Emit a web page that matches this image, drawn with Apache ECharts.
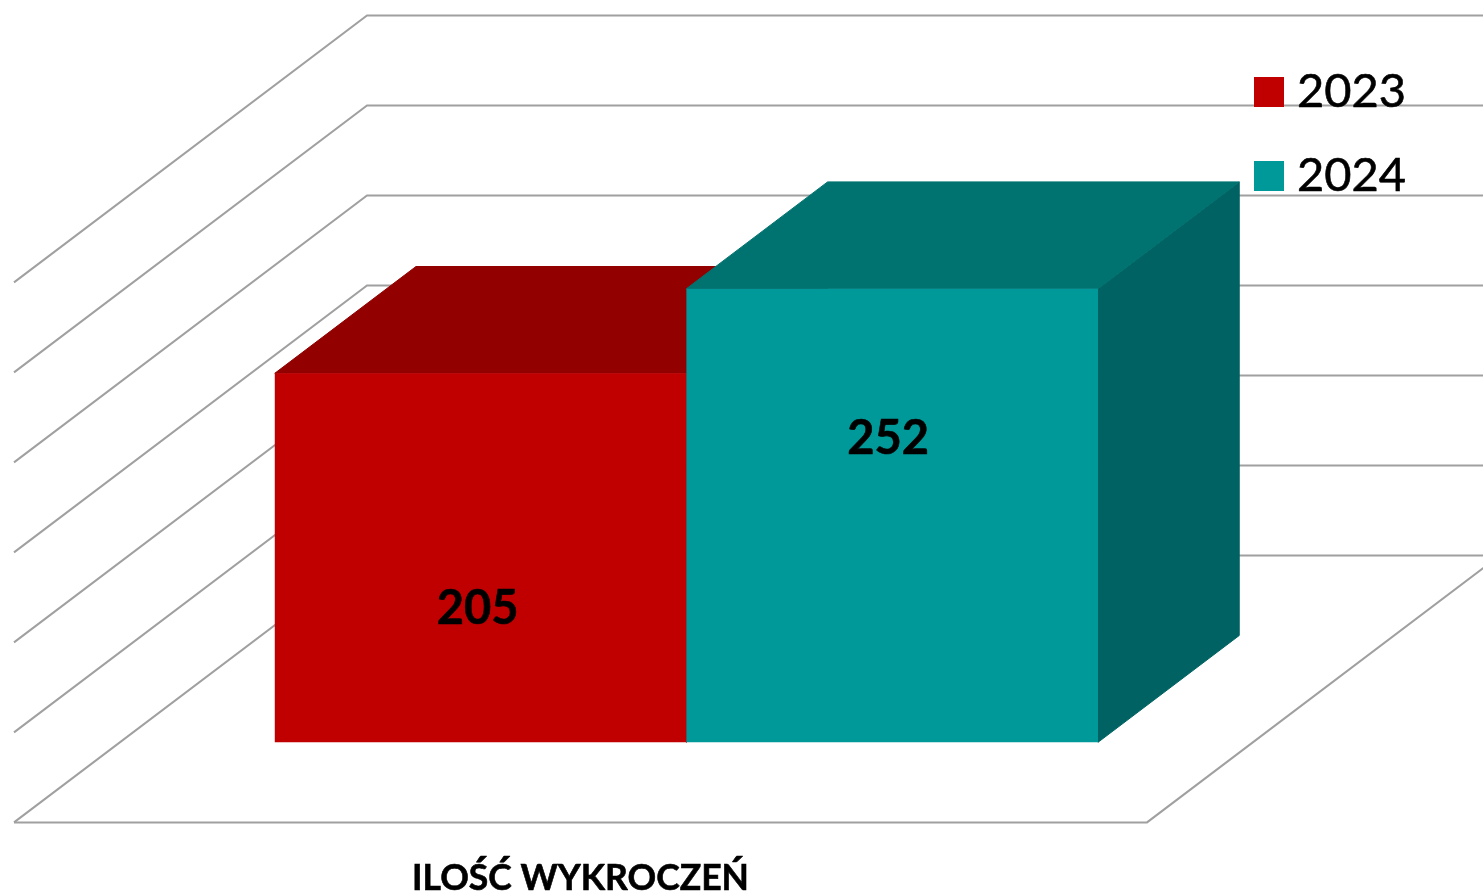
<!DOCTYPE html>
<html lang="pl">

<head>
    <meta charset="UTF-8">
    <title>Ilość wykroczeń</title>
    <script src="https://cdn.jsdelivr.net/npm/echarts@6/dist/echarts.min.js"></script>
    <style>
        html, body {
            margin: 0;
            padding: 0;
            background: #fff;
        }

        #main {
            width: 1483px;
            height: 893px;
            overflow: hidden;
        }
    </style>
</head>
<body>
<div id="main"></div>

<script type="text/javascript">
    // dane
    const categories = ['ILOŚĆ WYKROCZEŃ'];
    const values2023 = [205];
    const values2024 = [252];
    const yTicks = [0, 50, 100, 150, 200, 250, 300];

    // rzut ukosny: przesuniecie tylnej sciany wzgledem przedniej
    const DEPTH_X = 353;
    const DEPTH_Y = -267;
    const BAR_Z_FRONT = 0.3;
    const BAR_Z_BACK = 0.7;
    const BAR_WIDTH_RATIO = 0.3633;
    const FONT = 'Lato, "Open Sans", sans-serif';

    function project(point, z) {
        return [point[0] + DEPTH_X * z, point[1] + DEPTH_Y * z];
    }

    function renderWall(params, api) {
        let grid = params.coordSys;
        let y = api.coord([0, api.value(1)])[1];
        let left = [grid.x, y];
        let right = [grid.x + grid.width, y];
        let lineStyle = {stroke: '#a0a0a0', lineWidth: 2, fill: null};

        // sciana boczna i tylna
        let children = [{
            type: 'polyline',
            shape: {points: [left, project(left, 1), project(right, 1)]},
            style: lineStyle
        }];
        // podloga
        if (api.value(1) === 0) {
            children.push({
                type: 'polyline',
                shape: {points: [left, right, project(right, 1)]},
                style: lineStyle
            });
        }
        return {type: 'group', children: children};
    }

    function barRenderer(side, colors, labelAt, labelShift) {
        return function (params, api) {
            let top = api.coord([api.value(0), api.value(1)]);
            let base = api.coord([api.value(0), 0]);
            let width = api.size([1, 0])[0] * BAR_WIDTH_RATIO;
            let x0 = side < 0 ? top[0] - width : top[0];
            let x1 = x0 + width;

            let a = project([x0, base[1]], BAR_Z_FRONT);
            let b = project([x1, base[1]], BAR_Z_FRONT);
            let c = project([x1, top[1]], BAR_Z_FRONT);
            let d = project([x0, top[1]], BAR_Z_FRONT);
            let bb = project([x1, base[1]], BAR_Z_BACK);
            let cb = project([x1, top[1]], BAR_Z_BACK);
            let db = project([x0, top[1]], BAR_Z_BACK);

            return {
                type: 'group',
                children: [
                    {
                        type: 'polygon',
                        shape: {points: [b, bb, cb, c]},
                        style: {fill: colors.side, stroke: colors.side, lineWidth: 1}
                    },
                    {
                        type: 'polygon',
                        shape: {points: [d, c, cb, db]},
                        style: {fill: colors.top, stroke: colors.top, lineWidth: 1}
                    },
                    {type: 'polygon', shape: {points: [a, b, c, d]}, style: {fill: colors.front}},
                    {
                        type: 'text',
                        x: (a[0] + b[0]) / 2 + labelShift,
                        y: a[1] + (d[1] - a[1]) * labelAt,
                        style: {
                            text: String(api.value(1)),
                            fill: '#000',
                            stroke: '#000',
                            lineWidth: 0.6,
                            font: 'bold 47px ' + FONT,
                            align: 'center',
                            verticalAlign: 'middle'
                        }
                    }
                ]
            };
        };
    }

    let chart = echarts.init(document.getElementById('main'));
    let option = {
        animation: false,
        backgroundColor: '#fff',
        legend: {
            data: ['2023', '2024'],
            orient: 'vertical',
            left: 1249,
            top: 60,
            icon: 'rect',
            itemWidth: 30,
            itemHeight: 30,
            itemGap: 30,
            selectedMode: false,
            textStyle: {
                fontFamily: FONT,
                fontSize: 47,
                lineHeight: 54,
                color: '#000',
                textBorderColor: '#000',
                textBorderWidth: 0.6,
                padding: [0, 0, 0, 8]
            }
        },
        grid: {
            left: 14,
            top: 282.4,
            width: 1133,
            height: 540,
            outerBoundsMode: 'none'
        },
        xAxis: {
            type: 'category',
            data: categories,
            axisLine: {show: false},
            axisTick: {show: false},
            axisLabel: {
                margin: 38,
                fontFamily: FONT,
                fontSize: 35.5,
                fontWeight: 'bold',
                color: '#000',
                textBorderColor: '#000',
                textBorderWidth: 0.6
            }
        },
        yAxis: {
            type: 'value',
            min: 0,
            max: 300,
            interval: 50,
            axisLine: {show: false},
            axisTick: {show: false},
            axisLabel: {show: false},
            splitLine: {show: false}
        },
        series: [
            {
                name: 'siatka',
                type: 'custom',
                silent: true,
                data: yTicks.map(function (t) {
                    return [0, t];
                }),
                encode: {x: 0, y: 1},
                renderItem: renderWall
            },
            {
                name: '2023',
                type: 'custom',
                silent: true,
                itemStyle: {color: '#C00000'},
                data: values2023.map(function (v, i) {
                    return [i, v];
                }),
                encode: {x: 0, y: 1},
                renderItem: barRenderer(-1, {front: '#C00000', top: '#920000', side: '#920000'}, 0.361, -3)
            },
            {
                name: '2024',
                type: 'custom',
                silent: true,
                itemStyle: {color: '#009999'},
                data: values2024.map(function (v, i) {
                    return [i, v];
                }),
                encode: {x: 0, y: 1},
                renderItem: barRenderer(1, {front: '#009999', top: '#007370', side: '#006262'}, 0.670, -4)
            }
        ]
    };
    chart.setOption(option);
</script>
</body>
</html>
